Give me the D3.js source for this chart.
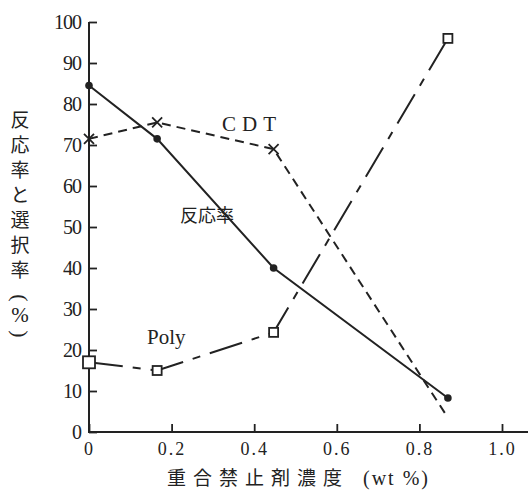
<!DOCTYPE html>
<html>
<head>
<meta charset="utf-8">
<script src="https://cdn.jsdelivr.net/npm/d3@7"></script>
<style>
  body { margin: 0; background: #fff; }
</style>
</head>
<body>
<div id="chart"></div>
<script>
// DATA
const concentration = [0, 0.165, 0.447, 0.869];
const conversion = [84.5, 71.5, 40, 8.3];
const cdtSelectivity = [71.5, 75.5, 69, 3.5];
const polySelectivity = [17, 15, 24.3, 96];
const xTicks = [0, 0.2, 0.4, 0.6, 0.8, 1.0];
const yTicks = [0, 10, 20, 30, 40, 50, 60, 70, 80, 90, 100];
const yLabelChars = ["反", "応", "率", "と", "選", "択", "率"];

const w = 530;
const h = 493;
const ink = "#222";
const serif = "'Liberation Serif', 'DejaVu Serif', serif";
const jp = "'Noto Sans CJK JP', sans-serif";

// SCALES
const xScale = d3.scaleLinear().domain([0, 1.0]).range([89, 502]);
const yScale = d3.scaleLinear().domain([0, 100]).range([432, 22]);

const svg = d3.select("#chart")
  .append("svg")
  .attr("width", w)
  .attr("height", h)
  .style("font-family", serif);

// AXES (ticks point inward)
const xAxis = d3.axisBottom(xScale)
  .tickValues(xTicks)
  .tickSizeInner(-8)
  .tickSizeOuter(0)
  .tickPadding(10)
  .tickFormat((d) => d === 0 ? "0" : d.toFixed(1));

const yAxis = d3.axisLeft(yScale)
  .tickValues(yTicks)
  .tickSizeInner(-8)
  .tickSizeOuter(0)
  .tickPadding(8);

const gx = svg.append("g")
  .attr("transform", "translate(0," + yScale(0) + ")")
  .call(xAxis)
  .attr("font-family", serif);
gx.select(".domain").remove();
gx.selectAll("line").attr("stroke", ink).attr("stroke-width", 1.8);
gx.selectAll("text")
  .attr("font-size", 18)
  .attr("letter-spacing", 2)
  .attr("fill", ink);

const gy = svg.append("g")
  .attr("transform", "translate(" + xScale(0) + ",0)")
  .call(yAxis)
  .attr("font-family", serif);
gy.select(".domain").remove();
gy.selectAll("line").attr("stroke", ink).attr("stroke-width", 1.8);
gy.selectAll("text")
  .attr("font-size", 20)
  .attr("letter-spacing", -1)
  .attr("fill", ink);

// axis lines
svg.append("path")
  .attr("d", "M" + xScale(0) + "," + yScale(100) + "V" + yScale(0) + "H528")
  .attr("fill", "none")
  .attr("stroke", ink)
  .attr("stroke-width", 2);

// LINES
const pts = (vals) => vals.map((v, i) => [xScale(concentration[i]), yScale(v)]);
const line = d3.line();

svg.append("path")
  .attr("d", line(pts(cdtSelectivity)))
  .attr("fill", "none")
  .attr("stroke", ink)
  .attr("stroke-width", 2)
  .attr("stroke-dasharray", "9,6");

svg.append("path")
  .attr("d", line(pts(polySelectivity)))
  .attr("fill", "none")
  .attr("stroke", ink)
  .attr("stroke-width", 2)
  .attr("stroke-dasharray", "34,10,8,10");

svg.append("path")
  .attr("d", line(pts(conversion)))
  .attr("fill", "none")
  .attr("stroke", ink)
  .attr("stroke-width", 2);

// MARKERS
svg.selectAll(".dot")
  .data(conversion)
  .enter()
  .append("circle")
  .attr("class", "dot")
  .attr("cx", (d, i) => xScale(concentration[i]))
  .attr("cy", (d) => yScale(d))
  .attr("r", 3.8)
  .attr("fill", ink);

svg.selectAll(".cross")
  .data(cdtSelectivity.slice(0, 3))
  .enter()
  .append("path")
  .attr("class", "cross")
  .attr("transform", (d, i) => "translate(" + xScale(concentration[i]) + "," + yScale(d) + ")")
  .attr("d", "M-5,-5L5,5M-5,5L5,-5")
  .attr("stroke", ink)
  .attr("stroke-width", 1.8);

svg.selectAll(".sq")
  .data(polySelectivity)
  .enter()
  .append("rect")
  .attr("class", "sq")
  .attr("x", (d, i) => xScale(concentration[i]) - (i === 0 ? 6 : 4.5))
  .attr("y", (d, i) => yScale(d) - (i === 0 ? 6 : 4.5))
  .attr("width", (d, i) => i === 0 ? 12 : 9)
  .attr("height", (d, i) => i === 0 ? 12 : 9)
  .attr("fill", "#fff")
  .attr("stroke", ink)
  .attr("stroke-width", 1.8);

// SERIES LABELS
svg.append("text")
  .attr("x", 222)
  .attr("y", 131)
  .attr("font-size", 21)
  .attr("letter-spacing", 6)
  .attr("fill", ink)
  .text("CDT");

svg.append("text")
  .attr("x", 180)
  .attr("y", 222)
  .attr("font-family", jp)
  .attr("font-size", 18)
  .attr("fill", ink)
  .text("反応率");

svg.append("text")
  .attr("x", 147)
  .attr("y", 344)
  .attr("font-size", 21)
  .attr("fill", ink)
  .text("Poly");

// AXIS TITLES
svg.append("text")
  .attr("x", 167)
  .attr("y", 485)
  .attr("font-family", jp)
  .attr("font-size", 19)
  .attr("letter-spacing", 7)
  .attr("fill", ink)
  .text("重合禁止剤濃度");

svg.append("text")
  .attr("x", 363)
  .attr("y", 485)
  .attr("font-size", 20)
  .attr("letter-spacing", 2)
  .attr("fill", ink)
  .text("(wt %)");

svg.selectAll(".ylab")
  .data(yLabelChars)
  .enter()
  .append("text")
  .attr("class", "ylab")
  .attr("x", 20)
  .attr("y", (d, i) => 127 + i * 25)
  .attr("text-anchor", "middle")
  .attr("font-family", jp)
  .attr("font-size", 19)
  .attr("fill", ink)
  .text((d) => d);

svg.append("text")
  .attr("transform", "translate(20,298) rotate(90)")
  .attr("text-anchor", "middle")
  .attr("dominant-baseline", "central")
  .attr("font-size", 22)
  .attr("fill", ink)
  .text("(");
svg.append("text")
  .attr("x", 20)
  .attr("y", 322)
  .attr("text-anchor", "middle")
  .attr("font-size", 21)
  .attr("fill", ink)
  .text("%");
svg.append("text")
  .attr("transform", "translate(20,334) rotate(90)")
  .attr("text-anchor", "middle")
  .attr("dominant-baseline", "central")
  .attr("font-size", 22)
  .attr("fill", ink)
  .text(")");
</script>
</body>
</html>
